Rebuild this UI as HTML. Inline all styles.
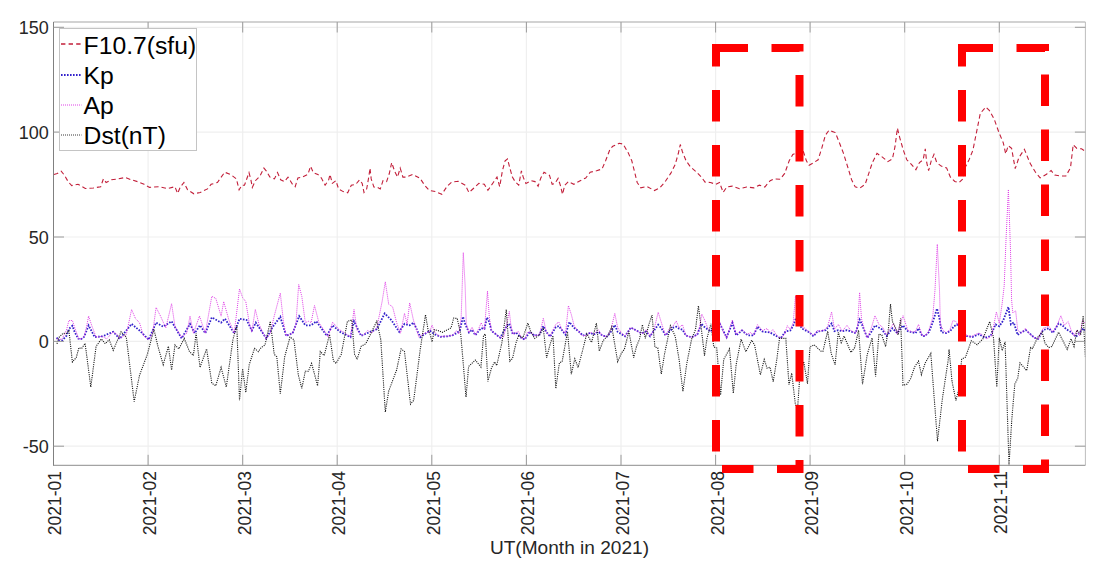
<!DOCTYPE html>
<html><head><meta charset="utf-8"><style>
html,body{margin:0;padding:0;background:#fff;}
body{width:1105px;height:570px;overflow:hidden;position:relative;}
svg{position:absolute;left:0;top:0;}
text{font-family:"Liberation Sans",sans-serif;}
</style></head><body>
<svg width="1105" height="570" viewBox="0 0 1105 570">
<rect x="0" y="0" width="1105" height="570" fill="#fff"/>
<path d="M148.1 22.0V465.3 M242.7 22.0V465.3 M337.2 22.0V465.3 M431.8 22.0V465.3 M526.4 22.0V465.3 M621.0 22.0V465.3 M715.6 22.0V465.3 M810.1 22.0V465.3 M904.7 22.0V465.3 M999.3 22.0V465.3 M53.5 27.3H1085.4 M53.5 132.1H1085.4 M53.5 237.0H1085.4 M53.5 341.4H1085.4 M53.5 446.2H1085.4" stroke="#efefef" stroke-width="1.2" fill="none"/>
<polyline points="54.0,174.5 57.2,173.5 61.2,171.1 64.5,175.3 68.1,181.6 71.7,185.6 78.0,184.3 85.3,188.5 93.4,188.0 100.7,186.7 103.4,178.9 106.1,182.5 111.5,179.8 117.9,178.9 125.1,177.5 131.4,179.8 138.7,182.0 144.1,184.3 149.5,187.4 158.6,186.7 167.6,188.5 174.9,186.7 177.6,193.4 180.3,187.1 183.9,182.5 187.6,189.8 193.9,193.8 200.2,192.5 207.5,188.9 211.1,184.3 217.4,182.5 224.7,172.2 231.0,174.8 236.4,178.9 239.1,189.8 241.9,185.2 244.5,185.2 249.0,172.6 250.9,179.8 252.3,187.4 255.4,180.7 259.9,176.2 263.9,168.1 266.2,170.8 269.9,177.1 274.4,178.9 277.5,172.6 280.7,179.8 284.3,181.6 288.0,177.1 292.5,184.3 295.2,186.7 297.9,178.0 302.4,177.1 307.9,174.4 310.6,166.2 313.3,172.6 317.8,174.4 321.4,178.0 325.1,185.2 328.7,179.8 330.0,174.4 332.3,183.4 335.9,180.7 338.6,188.9 343.2,191.6 347.7,192.8 351.3,185.2 355.8,184.3 359.5,179.8 362.2,183.4 364.0,192.5 366.7,188.9 368.9,176.2 370.0,168.1 371.2,178.9 373.9,187.1 377.6,187.4 380.3,188.9 383.0,180.7 386.6,181.6 389.3,173.5 391.7,162.6 394.8,171.7 397.5,177.1 400.2,168.1 402.9,177.1 406.5,177.1 412.8,174.4 420.1,178.4 424.6,185.2 429.1,190.3 435.4,191.6 441.8,194.3 447.2,186.2 451.7,182.0 458.1,181.3 465.3,185.2 468.9,192.5 473.4,188.5 478.9,183.4 484.3,184.3 487.9,190.3 493.3,182.5 497.0,177.1 499.7,186.7 502.4,170.8 505.1,160.8 507.5,159.0 509.6,167.1 512.4,177.1 515.1,181.6 518.7,185.2 521.4,170.8 523.2,177.1 525.9,183.4 531.4,180.7 535.0,181.6 538.1,186.2 540.8,178.0 544.0,172.2 549.5,175.3 552.2,184.3 554.9,183.4 558.1,178.4 560.3,185.2 562.5,194.3 564.8,185.2 568.5,181.6 573.9,184.3 580.2,180.7 585.7,178.0 590.2,172.2 596.5,170.8 602.0,169.0 605.6,160.8 610.1,149.0 612.8,146.3 619.1,143.3 623.0,144.0 628.1,152.6 631.8,160.8 634.5,171.6 637.2,182.5 640.8,187.9 647.1,186.5 654.4,190.6 659.8,187.9 665.2,181.6 670.7,173.4 675.2,164.4 678.3,153.5 680.3,144.5 682.4,151.7 686.1,160.8 690.6,167.1 696.0,171.6 701.4,177.1 705.1,182.1 710.5,182.5 715.9,184.3 719.5,182.5 723.2,192.4 726.8,187.0 732.2,186.1 739.5,188.8 746.7,187.0 753.9,187.9 759.4,185.2 764.8,187.0 770.2,180.7 773.8,178.9 780.2,179.2 784.7,173.4 789.2,160.8 792.8,154.4 797.4,152.6 802.8,149.9 806.4,160.8 809.1,165.3 813.7,162.6 818.1,159.8 821.8,148.0 825.4,135.3 829.0,130.3 835.3,132.6 839.0,141.7 843.5,153.4 848.0,167.9 851.6,179.7 855.2,186.9 859.8,188.2 865.2,184.2 868.8,173.3 872.4,162.5 877.0,153.4 882.4,157.1 887.8,161.6 892.4,158.9 895.1,146.2 897.4,128.1 899.6,137.1 903.2,149.8 906.8,159.8 911.4,164.3 915.9,169.7 919.5,162.5 923.1,159.8 925.3,148.9 926.7,162.5 928.6,170.6 931.3,160.7 934.0,154.3 936.7,162.5 941.2,166.1 946.6,167.9 950.3,177.0 954.8,181.5 959.3,182.4 962.9,178.8 965.5,166.8 969.2,159.4 972.9,150.2 976.6,131.8 980.3,113.4 985.8,107.0 989.5,110.7 994.1,118.9 998.7,131.8 1003.3,142.9 1005.7,153.9 1008.2,145.6 1011.6,148.4 1015.2,168.7 1018.9,157.6 1024.4,149.3 1030.0,163.1 1035.5,172.3 1040.1,177.9 1046.5,174.2 1051.1,170.5 1054.8,175.1 1060.3,176.0 1065.9,176.0 1070.5,167.7 1073.2,144.7 1076.9,148.4 1081.5,148.8 1085.2,151.2" fill="none" stroke="#c21f3a" stroke-width="1.1" stroke-dasharray="4.5 3"/>
<polyline points="56.6,337.6 58.8,340.3 62.3,340.3 66.7,335.5 68.9,328.9 72.4,325.8 74.6,331.9 78.1,338.5 80.7,339.4 83.8,337.2 86.8,330.2 88.6,325.4 94.7,337.1 102.6,336.3 113.2,331.8 119.7,338.9 131.6,323.9 139.5,330.5 148.7,339.7 156.1,322.6 163.2,326.6 171.6,321.3 181.6,338.4 190.0,324.0 194.7,333.2 200.0,325.3 205.3,333.2 211.8,317.4 221.1,322.6 225.0,318.7 234.2,333.2 239.5,318.7 246.6,320.0 251.8,330.5 255.8,322.6 261.1,330.5 266.3,338.4 272.9,326.6 280.3,316.8 286.1,335.8 292.6,333.2 299.2,316.1 305.3,325.3 311.1,325.3 316.3,321.3 326.8,335.8 332.6,325.3 340.0,331.8 350.5,337.1 354.0,321.3 361.1,335.8 370.3,331.8 376.8,329.2 384.7,313.4 391.3,320.0 399.2,331.8 404.5,323.9 409.7,325.3 413.7,322.6 420.3,337.1 426.8,332.6 430.0,330.7 434.4,334.2 440.5,336.8 447.5,336.3 452.8,335.1 456.3,333.3 459.8,330.7 463.0,316.7 465.1,323.7 469.0,332.5 472.1,329.8 475.3,335.1 481.2,328.1 484.4,328.9 487.0,317.5 489.3,321.9 491.4,330.7 495.8,334.2 500.2,337.7 507.2,325.4 509.3,323.7 512.8,334.2 516.0,332.5 521.2,337.7 524.7,339.5 529.8,331.8 534.7,335.6 539.5,334.7 543.3,326.0 546.2,331.8 550.1,336.6 555.9,327.0 558.8,326.0 561.7,329.8 565.5,334.7 569.4,322.1 574.2,327.9 579.1,331.8 582.9,335.6 590.6,332.7 593.5,334.7 598.4,331.8 602.2,335.6 607.0,336.6 610.9,331.8 614.8,325.0 617.7,331.8 625.0,336.3 630.8,327.6 636.6,330.5 641.4,333.4 646.2,331.5 650.1,336.3 654.0,330.5 658.2,324.7 661.7,328.6 665.5,335.4 673.3,327.6 676.2,326.7 679.1,328.6 682.5,329.6 685.8,335.4 691.6,337.3 697.4,334.4 701.3,323.8 704.2,326.7 708.0,329.6 710.9,331.5 715.7,324.7 719.8,323.8 726.6,337.3 732.4,322.8 736.2,335.4 742.0,330.5 747.8,335.4 753.6,335.4 757.5,326.7 762.3,331.5 770.0,332.5 776.8,336.3 780.6,338.3 785.5,331.5 790.3,330.5 793.2,325.7 796.0,318.0 801.9,328.6 809.6,332.5 813.5,336.3 817.3,331.5 820.0,331.2 825.8,330.2 831.6,323.4 834.5,331.2 838.3,330.2 842.2,331.2 847.0,330.2 855.7,333.1 859.6,319.6 861.5,323.4 867.3,337.9 871.2,332.1 875.0,325.4 881.8,329.2 886.6,336.0 892.4,328.3 897.2,333.1 903.0,325.4 907.8,331.2 915.6,333.1 918.5,328.3 922.3,336.0 925.0,336.0 928.9,332.1 932.7,322.5 937.0,308.6 939.5,318.6 941.4,332.1 946.2,333.1 950.1,331.2 954.0,326.3 956.9,324.4 966.5,336.0 972.3,337.0 979.1,334.1 984.8,337.9 990.6,336.0 995.5,324.4 999.3,326.3 1003.2,320.5 1008.4,307.0 1010.9,324.4 1013.8,322.5 1017.7,335.0 1020.0,333.0 1025.8,330.1 1034.5,337.8 1038.3,338.8 1043.1,330.1 1048.9,328.2 1052.8,333.0 1058.6,323.4 1062.4,325.3 1066.3,329.2 1071.1,332.1 1075.9,336.9 1079.8,332.1 1083.6,328.4 1085.4,331.0" fill="none" stroke="#3322cc" stroke-width="1.8" stroke-dasharray="1.6 1.4"/>
<polyline points="56.6,338.5 59.0,340.0 62.3,338.5 66.5,330.0 68.9,320.5 72.4,320.5 75.5,330.0 78.9,339.0 81.6,339.0 84.2,336.0 86.5,327.0 88.6,316.1 92.1,326.6 96.1,337.1 102.6,336.3 106.6,338.9 113.2,331.8 117.1,334.5 119.7,338.4 126.3,334.5 131.6,309.5 135.5,318.7 139.5,322.6 143.4,335.8 148.7,339.7 152.6,333.2 156.1,307.4 160.5,316.1 165.8,327.9 171.6,303.7 175.0,326.6 181.6,337.1 186.8,333.2 190.0,316.1 193.4,333.2 199.5,316.1 205.3,333.2 211.8,296.3 215.8,298.4 221.1,316.1 223.7,301.6 228.9,320.0 234.2,333.2 239.5,288.9 242.6,297.6 245.8,301.6 249.2,322.6 251.8,331.8 255.3,309.5 258.9,323.9 262.4,331.8 266.3,338.9 270.3,333.2 274.2,316.1 280.3,293.2 283.4,321.3 286.1,335.8 292.6,333.2 295.8,325.3 298.7,284.5 301.8,296.3 305.3,322.6 308.4,321.3 311.1,322.6 314.5,305.5 318.9,322.6 324.2,330.5 328.2,337.1 332.6,322.1 338.7,329.2 345.3,333.2 350.5,337.1 354.0,309.5 357.1,330.5 362.4,335.8 367.6,330.5 371.6,333.2 376.8,327.9 382.1,301.6 385.3,281.8 388.7,304.2 392.6,306.8 396.6,322.6 400.5,333.2 404.5,313.4 407.1,323.9 409.7,302.9 413.7,321.3 418.9,337.1 424.2,333.2 429.5,331.8 432.1,325.1 434.4,331.6 437.0,334.2 440.5,336.8 444.0,336.0 447.5,336.3 452.8,335.1 456.3,330.7 458.9,334.2 461.2,316.7 463.3,252.6 465.1,285.1 466.3,323.7 469.0,332.5 472.1,327.2 475.3,335.1 478.2,329.8 481.2,322.8 484.4,329.8 487.5,291.2 489.3,316.7 491.4,330.7 495.8,334.2 500.2,337.7 503.7,336.8 507.2,321.9 509.3,311.4 510.7,323.7 512.8,334.2 516.0,332.5 518.6,331.6 521.2,337.7 524.7,339.5 527.4,332.5 529.8,331.8 534.7,335.6 539.5,334.7 543.3,318.3 546.2,331.8 550.1,336.6 553.0,329.8 555.9,324.1 558.8,322.1 561.7,328.9 565.5,333.7 568.4,305.7 571.3,314.4 574.2,326.0 578.1,330.8 582.0,335.6 586.8,335.6 590.6,331.8 593.5,334.7 598.4,329.8 602.2,335.6 607.0,336.6 610.9,329.8 614.8,313.4 617.7,327.9 621.5,332.7 625.0,336.3 630.8,327.6 634.7,329.6 639.5,332.5 643.3,333.4 646.2,329.6 650.1,336.3 654.0,329.6 658.2,312.2 661.7,323.8 665.5,335.4 669.4,328.6 673.3,325.7 676.2,320.9 679.1,327.6 682.5,324.7 685.8,335.4 691.6,337.3 696.4,335.4 699.3,328.6 701.8,314.1 704.2,319.0 708.0,328.6 710.9,331.5 715.7,322.8 719.8,321.9 722.7,330.5 726.6,338.3 729.5,328.6 732.4,319.9 736.2,334.4 742.0,329.6 746.9,334.4 750.7,332.5 753.6,335.4 757.5,324.7 762.3,330.5 767.1,328.6 770.0,332.5 772.9,329.6 776.8,335.4 780.6,338.3 784.5,334.4 787.4,325.7 790.3,329.6 793.2,322.8 795.5,296.0 798.0,318.0 801.9,326.7 805.7,328.6 809.6,332.5 813.5,335.4 817.3,330.5 820.0,331.2 823.9,330.2 827.7,326.3 831.6,311.9 834.5,329.2 838.3,324.4 842.2,331.2 847.0,325.4 850.9,330.6 855.7,333.1 857.6,326.3 859.6,292.5 861.5,318.6 864.4,330.2 867.3,337.9 871.2,328.3 875.0,315.7 878.9,324.4 882.7,327.3 886.6,335.0 889.5,330.2 893.4,323.4 897.2,334.1 900.1,324.4 903.0,315.7 907.8,330.2 912.7,332.1 915.6,331.2 918.5,324.4 922.3,336.0 926.2,335.0 928.9,330.2 932.7,317.6 935.0,290.0 937.3,244.2 939.5,290.0 940.4,324.4 943.3,330.2 946.2,333.1 950.1,329.2 953.0,320.5 955.9,321.5 957.8,324.4 962.0,330.0 966.5,335.0 970.4,337.0 974.2,335.0 979.1,333.1 982.9,335.0 986.8,338.9 991.6,336.0 996.4,311.9 999.3,323.4 1002.2,303.2 1004.2,285.8 1006.0,240.0 1008.4,189.5 1010.5,250.0 1011.6,300.0 1012.8,312.8 1015.7,310.9 1017.7,330.2 1021.5,333.1 1025.4,328.3 1029.6,334.0 1034.5,337.8 1038.3,338.8 1043.1,328.2 1048.9,326.3 1052.8,332.1 1056.6,326.3 1060.9,315.7 1064.3,325.3 1068.2,321.5 1071.1,330.1 1074.0,335.9 1076.9,330.1 1079.8,335.9 1082.7,320.0 1085.4,324.0" fill="none" stroke="#e040e8" stroke-width="1" stroke-dasharray="1 1"/>
<polyline points="57.0,343.8 58.8,337.6 63.2,333.2 66.2,333.7 68.9,330.6 72.4,362.0 76.3,357.4 78.9,347.7 81.6,348.6 85.1,343.3 90.8,387.1 96.1,346.3 101.3,339.0 105.3,343.7 109.2,339.7 113.2,350.3 121.1,331.8 126.3,337.1 134.2,401.6 139.5,375.3 147.4,354.2 153.9,329.2 157.9,346.3 163.2,364.7 168.4,346.3 171.6,370.0 175.0,345.0 178.9,348.9 184.2,338.4 189.5,351.6 193.4,355.5 196.1,333.2 200.0,367.4 206.6,348.9 211.8,383.2 215.8,385.8 221.1,367.4 226.3,387.1 232.9,339.7 236.8,325.3 239.5,400.3 242.6,368.7 245.8,392.4 249.2,364.7 254.5,348.4 258.4,351.6 261.1,347.6 265.0,345.0 270.3,321.3 274.2,354.2 276.8,356.8 280.3,393.7 284.7,356.8 290.0,337.1 293.9,339.7 298.4,375.3 301.8,388.4 305.3,371.3 308.4,371.3 311.6,363.4 317.6,385.8 320.3,351.6 324.2,355.5 329.5,334.5 333.4,360.8 336.1,363.4 341.3,354.2 347.4,321.3 351.8,320.0 354.5,354.2 357.1,359.5 361.1,346.3 365.8,343.7 371.6,331.8 376.8,321.3 380.8,339.7 385.3,412.1 388.7,391.1 396.6,370.0 401.1,348.9 404.5,351.6 410.5,404.2 413.7,400.3 420.3,348.9 425.5,314.7 428.2,330.5 430.0,334.0 432.1,341.9 434.4,329.6 437.9,330.5 442.3,332.3 451.1,327.9 453.7,318.0 457.2,318.5 460.7,334.0 463.3,363.9 466.0,397.2 468.6,366.5 475.3,360.0 480.9,367.0 483.5,335.8 485.3,334.0 487.9,381.4 491.4,368.2 494.6,361.8 496.7,365.6 501.9,342.8 506.3,309.6 509.8,361.2 512.5,358.6 516.0,342.8 518.6,335.8 523.0,337.5 527.9,323.1 530.8,331.8 534.7,338.5 539.5,334.7 543.3,327.9 546.6,357.8 550.1,344.3 553.0,335.6 555.8,388.5 559.4,362.7 562.1,361.7 567.5,331.8 571.3,374.2 574.8,358.8 578.1,367.5 582.9,349.2 586.8,333.7 591.6,342.4 596.4,323.1 599.3,351.1 603.2,340.5 608.0,335.6 611.8,326.8 617.7,361.7 621.5,353.0 624.4,349.2 628.9,331.5 633.7,357.6 636.6,346.0 639.5,339.2 642.4,324.7 645.3,338.3 649.1,323.8 652.0,315.1 654.9,347.0 657.8,347.9 661.3,374.0 664.6,353.7 670.4,325.7 675.2,336.3 679.1,359.5 682.9,391.4 686.8,363.4 691.6,339.2 695.5,329.6 698.4,305.8 701.3,328.6 704.5,355.6 707.0,338.3 710.9,323.8 713.8,347.0 716.7,347.9 720.6,395.0 723.7,359.5 729.5,348.9 733.3,393.3 736.2,364.3 741.1,339.2 745.9,351.8 751.7,340.2 754.6,345.0 760.4,374.9 764.2,359.5 767.1,368.2 770.0,367.2 773.2,381.6 776.8,359.5 779.5,338.4 785.8,338.4 789.0,384.7 791.7,373.2 795.3,403.7 797.5,410.0 799.5,380.5 803.7,361.6 807.5,383.7 810.0,346.8 814.2,344.7 820.5,351.0 822.9,351.4 827.7,331.2 831.2,353.4 835.1,364.9 838.3,332.1 841.2,342.7 844.1,336.0 850.9,352.4 854.7,347.6 858.6,330.2 862.5,384.2 867.3,354.3 872.1,337.9 875.6,376.5 878.9,334.1 881.8,335.0 885.6,346.6 888.5,328.3 890.5,304.1 892.4,321.5 895.3,327.3 898.2,335.0 900.6,318.6 903.0,385.2 906.9,384.2 910.7,378.5 914.6,366.9 918.5,361.1 921.4,374.6 925.2,363.0 930.8,353.4 937.5,441.1 942.4,398.6 948.2,360.0 949.1,349.5 952.0,381.2 955.9,400.5 958.8,389.0 961.7,359.2 965.5,357.2 971.3,340.8 977.1,344.7 982.9,338.9 989.7,321.5 993.5,337.9 996.8,387.0 999.3,337.9 1002.2,350.5 1005.1,341.8 1009.0,465.2 1011.9,417.9 1014.8,384.1 1017.7,378.3 1020.0,362.9 1026.7,370.6 1030.6,347.5 1032.5,348.5 1037.4,337.8 1042.2,332.1 1045.1,343.6 1048.9,347.5 1051.8,346.5 1058.6,332.1 1064.3,343.6 1067.2,349.4 1071.1,338.8 1074.0,346.5 1076.9,330.1 1080.7,334.0 1083.2,315.7 1085.4,357.0" fill="none" stroke="#1a1a1a" stroke-width="1.1" stroke-dasharray="1.1 1.1"/>
<path d="M53.5 22.0H1085.4" stroke="#d2d2d2" stroke-width="2" fill="none"/>
<path d="M1085.4 22.0V465.3" stroke="#bdbdbd" stroke-width="1" fill="none"/>
<path d="M53.5 22.0V465.8" stroke="#808080" stroke-width="1" fill="none"/>
<path d="M53.5 465.3H1085.4" stroke="#8c8c8c" stroke-width="1" fill="none"/>
<path d="M148.1 465.3V454.8 M148.1 22.0V32.5 M242.7 465.3V454.8 M242.7 22.0V32.5 M337.2 465.3V454.8 M337.2 22.0V32.5 M431.8 465.3V454.8 M431.8 22.0V32.5 M526.4 465.3V454.8 M526.4 22.0V32.5 M621.0 465.3V454.8 M621.0 22.0V32.5 M715.6 465.3V454.8 M715.6 22.0V32.5 M810.1 465.3V454.8 M810.1 22.0V32.5 M904.7 465.3V454.8 M904.7 22.0V32.5 M999.3 465.3V454.8 M999.3 22.0V32.5 M53.5 27.3H64.0 M1085.4 27.3H1074.9 M53.5 132.1H64.0 M1085.4 132.1H1074.9 M53.5 237.0H64.0 M1085.4 237.0H1074.9 M53.5 341.4H64.0 M1085.4 341.4H1074.9 M53.5 446.2H64.0 M1085.4 446.2H1074.9" stroke="#9a9a9a" stroke-width="1" fill="none"/>
<text x="48.8" y="34.3" font-size="18" fill="#262626" text-anchor="end">150</text>
<text x="48.8" y="139.1" font-size="18" fill="#262626" text-anchor="end">100</text>
<text x="48.8" y="244.0" font-size="18" fill="#262626" text-anchor="end">50</text>
<text x="48.8" y="348.4" font-size="18" fill="#262626" text-anchor="end">0</text>
<text x="48.8" y="453.2" font-size="18" fill="#262626" text-anchor="end">-50</text>
<text transform="translate(61.4 471) rotate(-90)" font-size="17.5" fill="#262626" text-anchor="end">2021-01</text>
<text transform="translate(156.0 471) rotate(-90)" font-size="17.5" fill="#262626" text-anchor="end">2021-02</text>
<text transform="translate(250.6 471) rotate(-90)" font-size="17.5" fill="#262626" text-anchor="end">2021-03</text>
<text transform="translate(345.1 471) rotate(-90)" font-size="17.5" fill="#262626" text-anchor="end">2021-04</text>
<text transform="translate(439.7 471) rotate(-90)" font-size="17.5" fill="#262626" text-anchor="end">2021-05</text>
<text transform="translate(534.3 471) rotate(-90)" font-size="17.5" fill="#262626" text-anchor="end">2021-06</text>
<text transform="translate(628.9 471) rotate(-90)" font-size="17.5" fill="#262626" text-anchor="end">2021-07</text>
<text transform="translate(723.5 471) rotate(-90)" font-size="17.5" fill="#262626" text-anchor="end">2021-08</text>
<text transform="translate(818.0 471) rotate(-90)" font-size="17.5" fill="#262626" text-anchor="end">2021-09</text>
<text transform="translate(912.6 471) rotate(-90)" font-size="17.5" fill="#262626" text-anchor="end">2021-10</text>
<text transform="translate(1007.2 471) rotate(-90)" font-size="17.5" fill="#262626" text-anchor="end">2021-11</text>
<text x="569.5" y="553.8" font-size="19.1" fill="#262626" text-anchor="middle">UT(Month in 2021)</text>
<rect x="59.5" y="28.5" width="137" height="122" fill="#fff" stroke="#c4c4c4" stroke-width="1"/>
<path d="M61 44.0H81.5" stroke="#c21f3a" stroke-width="1.3" stroke-dasharray="4.4 3.2" fill="none"/>
<text x="83.6" y="53.7" font-size="24.7" fill="#000">F10.7(sfu)</text>
<path d="M61 75.0H81.5" stroke="#3322cc" stroke-width="1.8" stroke-dasharray="1.6 1.4" fill="none"/>
<text x="83.6" y="83.7" font-size="24.7" fill="#000">Kp</text>
<path d="M61 105.0H81.5" stroke="#e040e8" stroke-width="1" stroke-dasharray="1 1" fill="none"/>
<text x="83.6" y="113.7" font-size="24.7" fill="#000">Ap</text>
<path d="M61 135.0H81.5" stroke="#222" stroke-width="0.9" stroke-dasharray="1 1" fill="none"/>
<text x="83.6" y="143.7" font-size="24.7" fill="#000">Dst(nT)</text>
<path d="M716.0 48V469H799.5V48H716.0Z" fill="none" stroke="#ff0000" stroke-width="8" stroke-dasharray="31.5 23.5" stroke-dashoffset="13" stroke-linejoin="miter"/>
<rect x="712.0" y="44" width="8" height="8" fill="#ff0000"/>
<path d="M962.0 48V469H1045.0V48H962.0Z" fill="none" stroke="#ff0000" stroke-width="8" stroke-dasharray="31.5 23.5" stroke-dashoffset="13" stroke-linejoin="miter"/>
<rect x="958.0" y="44" width="8" height="8" fill="#ff0000"/>
</svg>
</body></html>
